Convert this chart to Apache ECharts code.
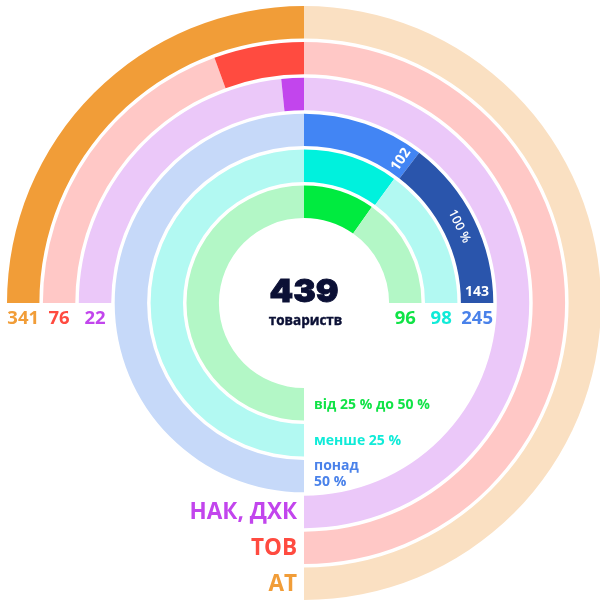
<!DOCTYPE html>
<html><head><meta charset="utf-8">
<script src="https://cdn.jsdelivr.net/npm/echarts@6/dist/echarts.min.js"></script>
<style>html,body{margin:0;padding:0;background:#fff}#c{width:600px;height:601px}</style>
</head><body><div id="c"></div><script>
// ---- data ----
const outerCategories = ['АТ', 'ТОВ', 'НАК, ДХК'];
const outerValues = [341, 76, 22];
const innerCategories = ['понад\n50 %', 'менше 25 %', 'від 25 % до 50 %'];
const innerValues = [245, 98, 96];
const splitValues = [102, 143];
const splitLabels = ['102', '100 %', '143'];
const totalCount = 439;
const totalLabel = 'товариств';

// ---- style ----
const outerColors = ['#F19D38', '#FF4B40', '#C245ED'];
const outerLight = ['#FAE0C2', '#FFC8C6', '#EBC8F9'];
const innerColors = ['#4285F4', '#00F1DD', '#00EB3F'];
const innerLight = ['#C6D9F9', '#B2F9F2', '#B3F7C6'];
const innerText = ['#4A82EA', '#10EBD8', '#10E346'];
const darkBlue = '#2A55AC';
const cx = 304, cy = 303, R0 = 297, pitch = 35.9, ringW = 32.4;
const FONT = '"Open Sans", "DejaVu Sans", sans-serif';

function rOut(k) { return R0 - k * pitch; }
function rIn(k) { return rOut(k) - ringW; }
function rMid(k) { return rOut(k) - ringW / 2; }
const T = 'rgba(0,0,0,0)';

const series = [];
const S1 = Math.max(...outerValues);
outerValues.forEach((v, k) => {
  const data = [
    { value: S1 - v, itemStyle: { color: outerLight[k] } },
    { value: v, itemStyle: { color: outerColors[k] } },
    { value: 2 * S1, itemStyle: { color: outerLight[k] } },
    { value: S1, itemStyle: { color: T } }
  ].filter(d => d.value > 0);
  series.push({ data, startAngle: 180, radius: [rIn(k), rOut(k)] });
});
const S2 = Math.max(...innerValues);
innerValues.forEach((v, j) => {
  const k = j + 3;
  let head;
  if (j === 0) {
    head = [
      { value: splitValues[0], itemStyle: { color: innerColors[0] } },
      { value: splitValues[1], itemStyle: { color: darkBlue } }
    ];
  } else {
    head = [
      { value: v, itemStyle: { color: innerColors[j] } },
      { value: S2 - v, itemStyle: { color: innerLight[j] } }
    ];
  }
  const data = head.concat([
    { value: S2, itemStyle: { color: T } },
    { value: 2 * S2, itemStyle: { color: innerLight[j] } }
  ]).filter(d => d.value > 0);
  series.push({ data, startAngle: 90, radius: [rIn(k), rOut(k)] });
});
series.forEach(s => {
  s.type = 'pie';
  s.center = [cx, cy];
  s.clockwise = true;
  s.silent = true;
  s.animation = false;
  s.label = { show: false };
  s.labelLine = { show: false };
  s.emphasis = { disabled: true };
  s.itemStyle = { borderWidth: 0 };
  s.minAngle = 0;
  s.z = 2;
});

function txt(x, y, text, opt) {
  const style = {
    text, fill: opt.color, fontFamily: opt.family || FONT,
    fontWeight: opt.weight || 'bold', fontSize: opt.size,
    textAlign: opt.align || 'center', align: opt.align || 'center',
    textVerticalAlign: 'middle', verticalAlign: 'middle',
    lineHeight: opt.lineHeight
  };
  if (opt.strokeW) { style.stroke = opt.color; style.lineWidth = opt.strokeW; }
  return {
    type: 'text', x, y, rotation: opt.rotation || 0, silent: true, z: 100,
    scaleX: opt.scaleX || 1, style
  };
}
const deg = Math.PI / 180;
const graphics = [];
graphics.push(txt(cx, 292.5, String(totalCount), { color: '#0B1035', size: 31.5, weight: 900, scaleX: 1.07, strokeW: 0.9, family: 'Inter, "Open Sans", sans-serif' }));
graphics.push(txt(cx + 1.5, 321.5, totalLabel, { color: '#0B1035', size: 13.5, strokeW: 0.4 }));
outerValues.forEach((v, k) => {
  graphics.push(txt(cx - rMid(k), 318.5, String(v), { color: outerColors[k], size: 18.5 }));
  graphics.push(txt(297, cy + rMid(k) + 1, outerCategories[k], { color: outerColors[k], size: 22.5, align: 'right' }));
});
innerValues.forEach((v, j) => {
  const k = j + 3;
  graphics.push(txt(cx + rMid(k), 318.5, String(v), { color: innerText[j], size: 18.5 }));
  graphics.push(txt(314, cy + rMid(k) + (j === 0 ? -2 : 1), innerCategories[j], { color: innerText[j], size: 14, align: 'left', lineHeight: 15.5 }));
});
// labels inside the blue split ring
const rb = rMid(3);
const a1 = splitValues[0] / S2 * 90 - 3.4;
graphics.push(txt(cx + rb * Math.sin(a1 * deg), cy - rb * Math.cos(a1 * deg), splitLabels[0], { color: '#fff', size: 14, rotation: (90 - a1) * deg }));
const a2 = (splitValues[0] + splitValues[1] / 2) / S2 * 90;
graphics.push(txt(cx + rb * Math.sin(a2 * deg), cy - rb * Math.cos(a2 * deg), splitLabels[1], { color: '#fff', size: 12.5, weight: 600, rotation: -a2 * deg }));
const a3 = (splitValues[0] + splitValues[1]) / S2 * 90;
graphics.push(txt(cx + rb * Math.sin(a3 * deg), cy - rb * Math.cos(a3 * deg) - 11, splitLabels[2], { color: '#fff', size: 14 }));

const chart = echarts.init(document.getElementById('c'), null, { renderer: 'canvas' });
chart.setOption({ animation: false, series, graphic: { elements: graphics } });
</script></body></html>
